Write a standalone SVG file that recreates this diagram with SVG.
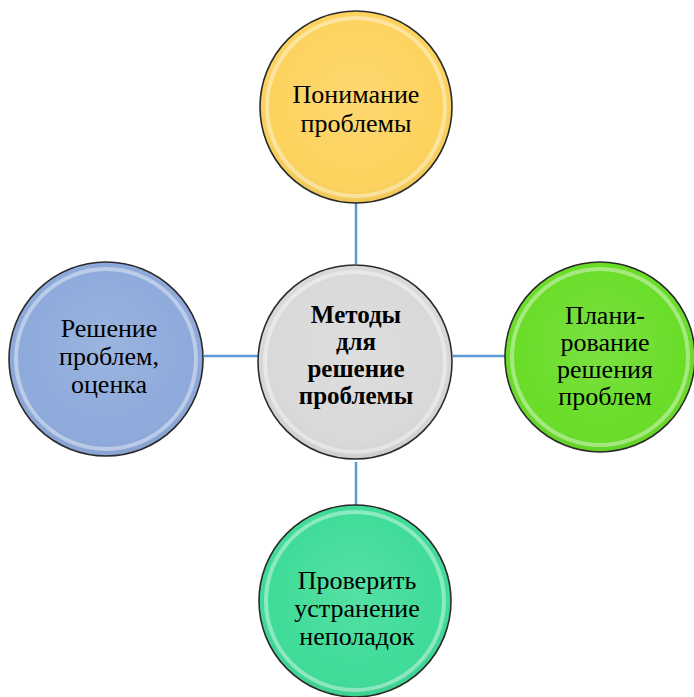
<svg xmlns="http://www.w3.org/2000/svg" width="694" height="697" viewBox="0 0 694 697">
<style>
.node{stroke:#2a2a2a;stroke-width:1.6}
.gloss{fill:none;stroke:#ffffff;stroke-opacity:0.4;stroke-width:4}
.t{font-family:"Liberation Serif","Times New Roman",serif;font-size:26px;fill:#000;text-anchor:middle}
.b{font-weight:bold;font-size:25px}
.conn{stroke:#5b9bd5;stroke-width:2.5;fill:none}
</style>
<defs>
<radialGradient id="shade" cx="50%" cy="45%" r="55%">
<stop offset="0" stop-color="#fff" stop-opacity="0.12"/>
<stop offset="0.8" stop-color="#fff" stop-opacity="0"/>
<stop offset="1" stop-color="#000" stop-opacity="0.06"/>
</radialGradient>
</defs>
<rect width="694" height="697" fill="#fff"/>
<g id="connectors">
<line class="conn" x1="356" y1="203" x2="356" y2="264"/>
<line class="conn" x1="204" y1="356" x2="258" y2="356"/>
<line class="conn" x1="453" y1="356" x2="508" y2="356"/>
<line class="conn" x1="356" y1="462" x2="356" y2="508"/>
</g>
<g id="node-top">
<circle class="node" cx="356" cy="107" r="96" fill="#fdd35e"/>
<circle cx="356" cy="107" r="96" fill="url(#shade)"/>
<circle class="gloss" cx="356" cy="107" r="89"/>
<text class="t" x="356" y="103">Понимание</text>
<text class="t" x="356" y="132">проблемы</text>
</g>
<g id="node-center">
<circle class="node" cx="355" cy="362" r="97" fill="#d9d9d9"/>
<circle cx="355" cy="362" r="97" fill="url(#shade)"/>
<circle class="gloss" cx="355" cy="362" r="90"/>
<text class="t b" x="356" y="323">Методы</text>
<text class="t b" x="356" y="350">для</text>
<text class="t b" x="356" y="377">решение</text>
<text class="t b" x="356" y="404">проблемы</text>
</g>
<g id="node-left">
<circle class="node" cx="106" cy="359" r="97" fill="#8eaadb"/>
<circle cx="106" cy="359" r="97" fill="url(#shade)"/>
<circle class="gloss" cx="106" cy="359" r="90"/>
<text class="t" x="109" y="337">Решение</text>
<text class="t" x="109" y="365">проблем,</text>
<text class="t" x="109" y="393">оценка</text>
</g>
<g id="node-right">
<circle class="node" cx="600" cy="357" r="95" fill="#69dd28"/>
<circle cx="600" cy="357" r="95" fill="url(#shade)"/>
<circle class="gloss" cx="600" cy="357" r="88"/>
<text class="t" x="605" y="324">Плани-</text>
<text class="t" x="605" y="351">рование</text>
<text class="t" x="605" y="378">решения</text>
<text class="t" x="605" y="405">проблем</text>
</g>
<g id="node-bottom">
<circle class="node" cx="355" cy="601" r="96" fill="#3fdc98"/>
<circle cx="355" cy="601" r="96" fill="url(#shade)"/>
<circle class="gloss" cx="355" cy="601" r="89"/>
<text class="t" x="357" y="589">Проверить</text>
<text class="t" x="357" y="617">устранение</text>
<text class="t" x="357" y="645">неполадок</text>
</g>
</svg>
